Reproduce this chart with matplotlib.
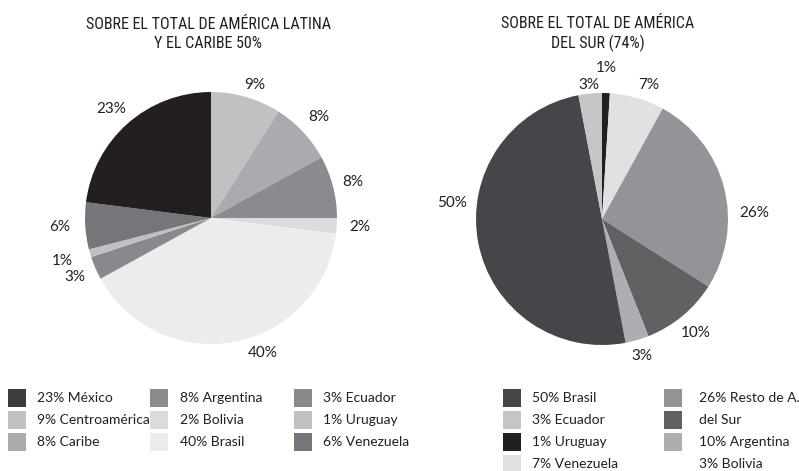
import numpy as np
import matplotlib
matplotlib.use("Agg")
import matplotlib.pyplot as plt
from matplotlib.patches import Rectangle

# ---------------- data ----------------
left_title = "SOBRE EL TOTAL DE AMÉRICA LATINA\nY EL CARIBE 50%"
left_names = ["Centroamérica", "Caribe", "Argentina", "Bolivia", "Brasil",
              "Ecuador", "Uruguay", "Venezuela", "México"]
left_values = [9, 8, 8, 2, 40, 3, 1, 6, 23]

right_title = "SOBRE EL TOTAL DE AMÉRICA\nDEL SUR (74%)"
right_names = ["Uruguay", "Venezuela", "Resto de A. del Sur", "Argentina",
               "Bolivia", "Brasil", "Ecuador"]
right_values = [1, 7, 26, 10, 3, 50, 3]

left_legend_cols = [["23% México", "9% Centroamérica", "8% Caribe"],
                    ["8% Argentina", "2% Bolivia", "40% Brasil"],
                    ["3% Ecuador", "1% Uruguay", "6% Venezuela"]]
right_legend_cols = [["50% Brasil", "3% Ecuador", "1% Uruguay", "7% Venezuela"],
                     ["26% Resto de A.", "del Sur", "10% Argentina", "3% Bolivia"]]

# ---------------- styles ----------------
left_colors = ["#c1c1c4", "#aaabae", "#8a8b8e", "#dcdcde", "#ececed",
               "#88898c", "#c0c0c3", "#75767a", "#231f20"]
right_colors = ["#231f20", "#e1e1e3", "#939497", "#616163", "#adaeb1",
                "#454649", "#c6c6c8"]
left_legend_colors = [["#3c3c3e", "#c1c1c4", "#aaabae"],
                      ["#8a8b8e", "#dcdcde", "#ececed"],
                      ["#88898c", "#c0c0c3", "#75767a"]]
right_legend_colors = [["#454649", "#c6c6c8", "#231f20", "#e0e0e2"],
                       ["#939497", "#616163", "#adaeb1", None]]

left_label_dist = [1.11, 1.17, 1.16, 1.18, 1.15, 1.18, 1.23, 1.2, 1.17]
left_label_nudge = [-2, 0, 0, 0, 10, 0, 0, 0, 1]
right_label_dist = [1.2, 1.13, 1.21, 1.17, 1.13, 1.2, 1.07]
right_label_nudge = [0, -3, -12, 0, 0, -17, 0]

LABEL_FONT = ["Lato", "DejaVu Sans"]
TITLE_FONT = ["Liberation Sans Narrow", "Roboto Condensed", "Roboto", "DejaVu Sans"]
TXT = "#231f20"

W, H = 799, 471
fig = plt.figure(figsize=(W / 100, H / 100), dpi=100)
fig.patch.set_facecolor("white")

R = 126.0   # pie radius in pixels
HALF = 175.0


def pie_axes(cx, cy):
    ax = fig.add_axes([(cx - HALF) / W, (H - cy - HALF) / H, 2 * HALF / W, 2 * HALF / H])
    return ax


def draw_pie(ax, values, colors, dists, nudges):
    wedges, _ = ax.pie(values, colors=colors, startangle=90, counterclock=False,
                       radius=1.0, wedgeprops=dict(linewidth=0))
    ax.set_xlim(-HALF / R, HALF / R)
    ax.set_ylim(-HALF / R, HALF / R)
    ax.set_aspect("equal")
    ax.axis("off")
    for w, v, d, n in zip(wedges, values, dists, nudges):
        ang = np.deg2rad((w.theta1 + w.theta2) / 2 + n)
        ax.text(d * np.cos(ang), d * np.sin(ang), f"{v}%", ha="center", va="center",
                fontsize=11, color=TXT, family=LABEL_FONT)


axl = pie_axes(211, 218)
draw_pie(axl, left_values, left_colors, left_label_dist, left_label_nudge)
axr = pie_axes(602, 219)
draw_pie(axr, right_values, right_colors, right_label_dist, right_label_nudge)

# overlay in pixel coordinates for titles and legends
ov = fig.add_axes([0, 0, 1, 1], zorder=-1)
ov.set_xlim(0, W)
ov.set_ylim(H, 0)
ov.axis("off")

ov.text(208, 34, left_title, ha="center", va="center", fontsize=11.5,
        color=TXT, family=TITLE_FONT, linespacing=1.35)
ov.text(598, 34, right_title, ha="center", va="center", fontsize=11.5,
        color=TXT, family=TITLE_FONT, linespacing=1.35)

ROWS = [398, 420, 442, 464]
BOX = 18


def draw_legend(cols, colors, box_x, text_x):
    for ci, (labels, cols_c) in enumerate(zip(cols, colors)):
        for ri, (lab, c) in enumerate(zip(labels, cols_c)):
            y = ROWS[ri]
            if c is not None:
                ov.add_patch(Rectangle((box_x[ci], y - BOX / 2), BOX, BOX,
                                       facecolor=c, edgecolor="none"))
            ov.text(text_x[ci], y, lab, ha="left", va="center", fontsize=10,
                    color=TXT, family=LABEL_FONT)


draw_legend(left_legend_cols, left_legend_colors, [8, 150, 294], [37, 180, 323])
draw_legend(right_legend_cols, right_legend_colors, [503, 664], [532, 699])

fig.savefig("out.png", dpi=100, facecolor="white")
